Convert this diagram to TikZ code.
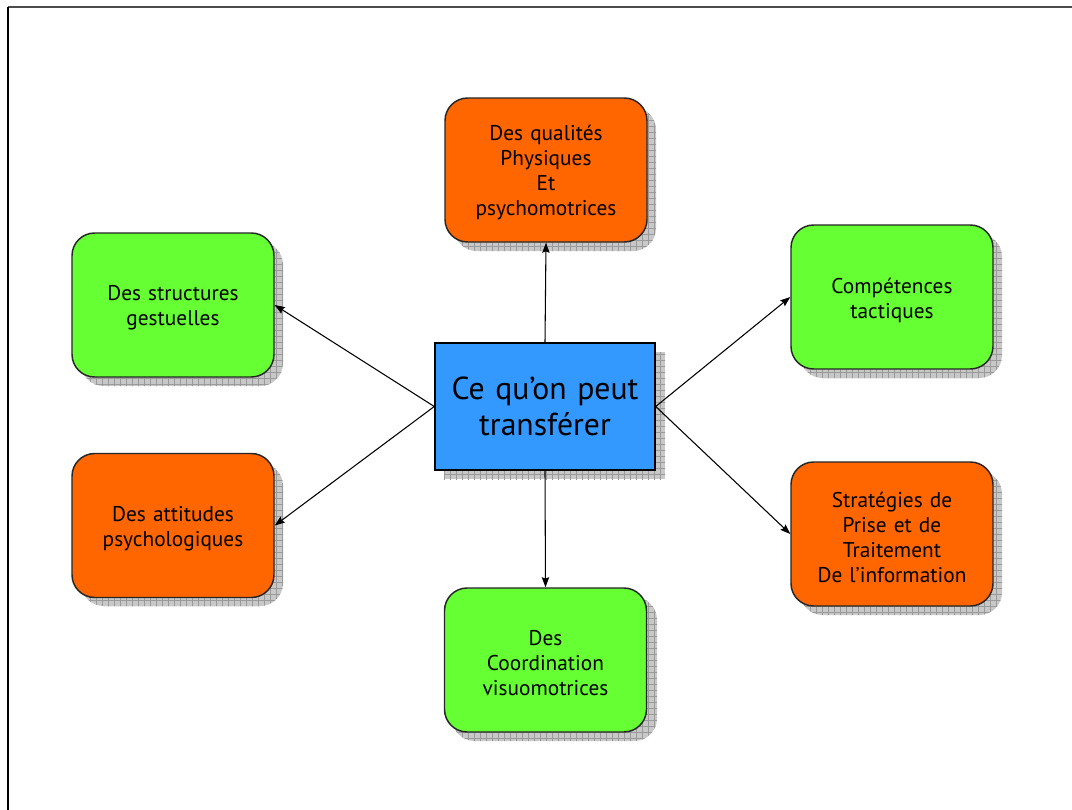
\documentclass[tikz,border=0pt]{standalone}
\usepackage{fontspec}
\setmainfont{PT Sans}
\usetikzlibrary{arrows.meta,patterns.meta}

\definecolor{boxorange}{HTML}{FF6600}
\definecolor{boxgreen}{HTML}{66FF33}
\definecolor{boxblue}{HTML}{3399FF}
\definecolor{shadowfill}{HTML}{C8C8C8}
\definecolor{shadowgrid}{HTML}{9A9A9A}

\newcommand{\toplift}{\rule{0pt}{16pt}}

\tikzset{
  px/.style={x=0.75pt,y=-0.75pt},
  topic/.style={draw=black!85, line width=1.1pt, rectangle, rounded corners=17pt,
    minimum width=151.5pt, minimum height=108pt, text width=140pt, align=center,
    font=\fontsize{16}{18.75}\selectfont, inner sep=0pt},
  hub/.style={draw=black, line width=1.1pt, rectangle, fill=boxblue,
    minimum width=165pt, minimum height=95.25pt, text width=160pt, align=center,
    font=\fontsize{23.8}{26.5}\selectfont, inner sep=0pt},
  gridshadow/.style={fill=shadowfill,
    postaction={pattern={Lines[angle=0,distance=4.5pt,line width=0.5pt]}, pattern color=shadowgrid},
    postaction={pattern={Lines[angle=90,distance=4.5pt,line width=0.5pt]}, pattern color=shadowgrid}},
  link/.style={line width=0.8pt, -{Stealth[length=7.5pt,width=5.5pt,inset=1pt]}},
}

\begin{document}
\begin{tikzpicture}[px]
  \useasboundingbox (0,0) rectangle (1072,810);
  \fill[white] (0,0) rectangle (1072,810);

  % page frame
  \draw[line width=1.2pt, black!70] (8,7) -- (1072,7);
  \draw[line width=1.6pt, black] (8,7) -- (8,810);

  % drop shadows
  \path[gridshadow, rounded corners=17pt] (454,107) rectangle (656,251);
  \path[gridshadow, rounded corners=17pt] (81,242) rectangle (283,386);
  \path[gridshadow, rounded corners=17pt] (81,463) rectangle (283,606);
  \path[gridshadow, rounded corners=17pt] (800,234) rectangle (1002,378);
  \path[gridshadow, rounded corners=17pt] (800,471) rectangle (1002,615);
  \path[gridshadow, rounded corners=17pt] (452,597) rectangle (657,741);
  \path[gridshadow] (444,352) rectangle (665,479);

  % topic boxes
  \node[topic, fill=boxorange] (phys) at (546,170) {\toplift Des qualités\\Physiques\\Et\\psychomotrices};
  \node[topic, fill=boxgreen]  (gest) at (173,305) {\toplift Des structures\\gestuelles};
  \node[topic, fill=boxorange] (atti) at (173,525.5) {\toplift Des attitudes\\psychologiques};
  \node[topic, fill=boxgreen]  (tact) at (892,297) {\toplift Compétences\\tactiques};
  \node[topic, fill=boxorange] (strat) at (892,534) {\toplift Stratégies de\\Prise et de\\Traitement\\De l’information};
  \node[topic, fill=boxgreen]  (coord) at (545.5,660) {\toplift Des\\Coordination\\visuomotrices};

  % central box
  \node[hub] (hub) at (545,406.5) {Ce qu’on peut\\transférer};

  % connectors
  \draw[link] (hub.north) -- (phys.south);
  \draw[link] (hub.south) -- (coord.north);
  \draw[link] (hub.west) -- (gest.east);
  \draw[link] (hub.west) -- (atti.east);
  \draw[link] (hub.east) -- (tact.west);
  \draw[link] (hub.east) -- (strat.west);
\end{tikzpicture}
\end{document}
